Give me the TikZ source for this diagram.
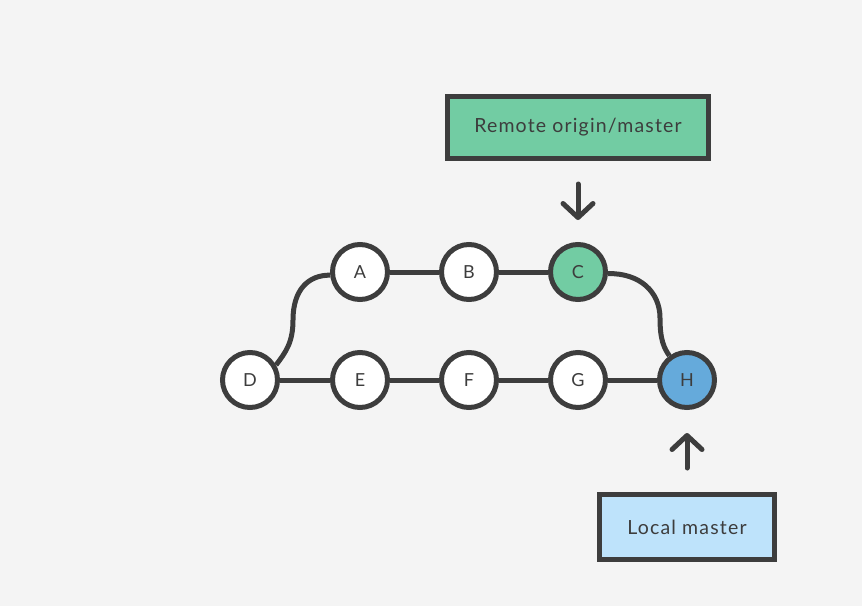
\documentclass[tikz,border=0pt]{standalone}
\usepackage{fontspec}
\setmainfont{Lato}[LetterSpace=6]
\usetikzlibrary{arrows.meta}
\definecolor{bgcol}{HTML}{F4F4F4}
\definecolor{ink}{HTML}{3D3D3D}
\definecolor{remotegreen}{HTML}{72CCA3}
\definecolor{localblue}{HTML}{65AADB}
\definecolor{lightblue}{HTML}{BEE3FB}
\tikzset{
  commit/.style={circle, draw=ink, line width=5pt, fill=white, minimum size=55pt,
    inner sep=0pt, text=ink, font=\fontsize{18}{18}\selectfont},
  refbox/.style={rectangle, draw=ink, line width=5pt, text=ink, inner sep=0pt,
    font=\fontsize{19.5}{19.5}\selectfont},
  edge/.style={draw=ink, line width=5pt},
  pointer/.style={draw=ink, line width=5pt, line cap=round,
    -{Straight Barb[length=14pt,width=30pt,round]}},
}
\begin{document}
\begin{tikzpicture}[x=1pt,y=-1pt]
  \fill[bgcol] (0,0) rectangle (862,606);
  \useasboundingbox (0,0) rectangle (862,606);

  % commits
  \node[commit] (A) at (360,272) {A};
  \node[commit] (B) at (469,272) {B};
  \node[commit, fill=remotegreen] (C) at (578,272) {C};
  \node[commit] (D) at (250,380) {D};
  \node[commit] (E) at (360,380) {E};
  \node[commit] (F) at (469,380) {F};
  \node[commit] (G) at (578,380) {G};
  \node[commit, fill=localblue] (H) at (687,380) {H};

  % branch labels
  \node[refbox, fill=remotegreen, minimum width=261pt, minimum height=62pt]
    (remote) at (578,127.5) {Remote origin/master};
  \node[refbox, fill=lightblue, minimum width=175pt, minimum height=65pt]
    (local) at (687,527) {Local master};

  % history lines
  \path[edge] (A) -- (B) -- (C);
  \path[edge] (D) -- (E) -- (F) -- (G) -- (H);
  \path[edge] (D.30) .. controls (286,352) and (293,342) .. (293,320)
                     .. controls (293,290) and (308,275) .. (A.186);
  \path[edge] (C.-3) .. controls (640,273) and (660,292) .. (660,318)
                     .. controls (660,340) and (664,348) .. (H.126);

  % pointers
  \draw[pointer, shorten <=23pt, shorten >=22pt] (remote.south) -- (C.north);
  \draw[pointer, shorten <=24pt, shorten >=23pt] (local.north) -- (H.south);
\end{tikzpicture}
\end{document}
